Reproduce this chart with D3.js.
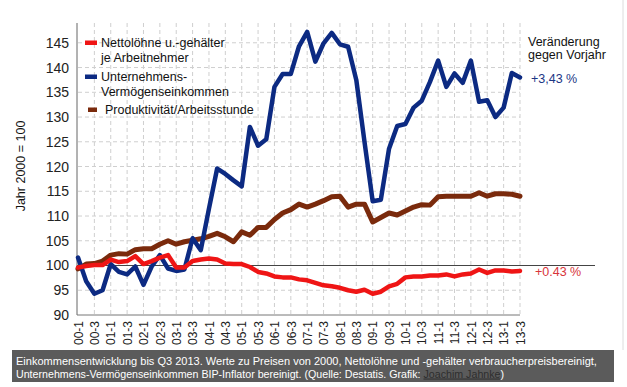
<!DOCTYPE html>
<html>
<head>
<meta charset="utf-8">
<script src="https://cdn.jsdelivr.net/npm/d3@7"></script>
<style>
  body { margin: 0; background: #fff; }
  svg { display: block; font-family: "Liberation Sans", Arial, sans-serif; }
  .grid line { stroke: #cfcfcf; stroke-dasharray: 4,3; stroke-width: 1; }
  .series { fill: none; stroke-linejoin: round; stroke-linecap: round; }
  .caption { white-space: pre; }
</style>
</head>
<body>
<div id="chart"></div>
<script>
  // quarters 2000-Q1 .. 2013-Q3
  var quarters = [];
  for (var yr = 0; yr <= 13; yr++) {
    for (var q = 1; q <= 4; q++) {
      if (yr == 13 && q > 3) break;
      quarters.push((yr < 10 ? "0" + yr : "" + yr) + "-" + q);
    }
  }
  // every second quarter gets a label
  var tickLabels = quarters.filter(function (d) { return d.slice(-1) == "1" || d.slice(-1) == "3"; });

  var yTicks = [90, 95, 100, 105, 110, 115, 120, 125, 130, 135, 140, 145];

  var nettoLoehne = [99.6, 99.9, 100.1, 100.1, 101.2, 100.7, 100.9, 101.9, 100.3, 100.9,
    101.6, 102.1, 99.6, 99.6, 100.9, 101.2, 101.4, 101.2, 100.4, 100.3,
    100.3, 99.7, 98.7, 98.4, 97.8, 97.6, 97.6, 97.2, 97.0, 96.5,
    96.0, 95.8, 95.5, 95.0, 94.7, 95.1, 94.3, 94.7, 95.8, 96.3,
    97.6, 97.8, 97.8, 98.0, 98.0, 98.2, 97.8, 98.2, 98.4, 99.2,
    98.5, 99.0, 99.0, 98.8, 98.9];

  var unternehmen = [101.6, 96.8, 94.3, 95.0, 100.3, 98.7, 98.2, 99.8, 96.1, 99.8,
    102.1, 99.4, 98.9, 99.2, 105.5, 103.1, 111.5, 119.6, 118.5, 117.2,
    116.0, 128.0, 124.2, 125.5, 136.1, 138.7, 138.7, 144.3, 147.2, 141.2,
    144.9, 147.0, 144.7, 144.2, 137.5, 125.0, 113.0, 113.3, 123.6, 128.2,
    128.6, 131.9, 133.3, 137.1, 141.4, 136.1, 138.8, 136.9, 141.4, 133.1,
    133.4, 130.0, 131.9, 138.9, 138.0];

  var produktivitaet = [99.3, 100.3, 100.4, 100.9, 102.1, 102.4, 102.3, 103.2, 103.4, 103.4,
    104.3, 105.0, 104.3, 104.8, 105.1, 105.4, 105.9, 106.5, 105.8, 104.8,
    106.8, 106.1, 107.7, 107.7, 109.3, 110.6, 111.3, 112.4, 111.8, 112.4,
    113.1, 113.9, 114.0, 111.8, 112.4, 112.4, 108.8, 109.7, 110.6, 110.2,
    111.0, 111.8, 112.3, 112.2, 113.9, 114.0, 114.0, 114.0, 114.0, 114.7,
    114.0, 114.5, 114.5, 114.4, 114.0];

  var seriesNames = [["Nettolöhne u.-gehälter", "je Arbeitnehmer"], ["Unternehmens-", "Vermögenseinkommen"], ["Produktivität/Arbeitsstunde"]];
  var seriesColors = ["#ef1515", "#0c2a82", "#7a2a0c"];
  var changeLabels = ["+0.43 %", "+3,43 %"];

  var width = 627, height = 387;

  var svg = d3.select("#chart").append("svg").attr("width", width).attr("height", height);

  var x = d3.scalePoint().domain(quarters).range([78, 520]);
  var y = d3.scaleLinear().domain([90, 149]).range([315, 23]);

  // page frame on the right
  svg.append("line").attr("x1", 623).attr("x2", 623).attr("y1", 0).attr("y2", 350)
    .attr("stroke", "#dcdcdc");

  // grid
  var grid = svg.append("g").attr("class", "grid");
  grid.selectAll(".v").data(tickLabels.slice(1)).enter().append("line")
    .attr("x1", function (d) { return x(d); }).attr("x2", function (d) { return x(d); })
    .attr("y1", y(149)).attr("y2", y(90));
  grid.selectAll(".h").data(yTicks.filter(function (d) { return d != 90 && d != 100; })).enter().append("line")
    .attr("x1", x.range()[0]).attr("x2", x.range()[1])
    .attr("y1", function (d) { return y(d); }).attr("y2", function (d) { return y(d); });

  // axes
  var yAxis = svg.append("g").attr("transform", "translate(77,0)")
    .call(d3.axisLeft(y).tickValues(yTicks).tickSize(0).tickPadding(8));
  yAxis.select(".domain").attr("d", "M0," + y(149) + "V" + y(90)).attr("stroke", "#666");
  yAxis.selectAll("text").attr("font-size", "14px").attr("fill", "#222").attr("font-family", null);

  var xAxis = svg.append("g").attr("transform", "translate(0," + y(90) + ")")
    .call(d3.axisBottom(x).tickValues(tickLabels).tickSize(0).tickPadding(0));
  xAxis.select(".domain").attr("d", "M77,0H" + x.range()[1]).attr("stroke", "#777");
  xAxis.selectAll("text")
    .attr("font-size", "12px").attr("fill", "#222").attr("font-family", null)
    .attr("text-anchor", "end").attr("dy", "0.35em")
    .attr("transform", "translate(0,6) rotate(-90)").attr("x", 0).attr("y", 0);

  // reference line at 100
  svg.append("line").attr("x1", 77).attr("x2", 595).attr("y1", y(100)).attr("y2", y(100))
    .attr("stroke", "#444").attr("stroke-width", 1);

  // series
  var line = d3.line().x(function (d, i) { return x(quarters[i]); }).y(function (d) { return y(d); });
  svg.append("path").attr("class", "series").attr("d", line(produktivitaet))
    .attr("stroke", seriesColors[2]).attr("stroke-width", 5);
  svg.append("path").attr("class", "series").attr("d", line(unternehmen))
    .attr("stroke", seriesColors[1]).attr("stroke-width", 4.5);
  svg.append("path").attr("class", "series").attr("d", line(nettoLoehne))
    .attr("stroke", seriesColors[0]).attr("stroke-width", 4.5);

  // legend
  var legend = svg.append("g").attr("font-size", "12.5px").attr("fill", "#111");
  var legendY = [47, 81, 114];
  var legendX = [101, 101, 105];
  seriesNames.forEach(function (names, i) {
    legend.append("rect").attr("x", i == 2 ? 88 : 85).attr("y", legendY[i] - 6.5)
      .attr("width", i == 2 ? 9 : 12).attr("height", 4.5).attr("fill", seriesColors[i]);
    names.forEach(function (t, j) {
      legend.append("text").attr("x", legendX[i]).attr("y", legendY[i] + j * 15).text(t);
    });
  });

  // right side annotations
  svg.append("text").attr("x", 528).attr("y", 46).attr("font-size", "12.5px").attr("fill", "#111").text("Veränderung");
  svg.append("text").attr("x", 528).attr("y", 59).attr("font-size", "12.5px").attr("fill", "#111").text("gegen Vorjahr");
  svg.append("text").attr("x", 531).attr("y", 83).attr("font-size", "12.5px").attr("fill", "#1c3684").text(changeLabels[1]);
  svg.append("text").attr("x", 535).attr("y", 276).attr("font-size", "12.5px").attr("fill", "#d8353a").text(changeLabels[0]);

  // y axis title
  svg.append("text").attr("transform", "translate(25,166) rotate(-90)")
    .attr("text-anchor", "middle").attr("font-size", "12.5px").attr("fill", "#111")
    .text("Jahr 2000 = 100");

  // caption box: each line is sized so it fills the width it has in the original
  svg.append("rect").attr("x", 12).attr("y", 350).attr("width", 602).attr("height", 32).attr("fill", "#5b5b5b");
  var captionLines = [
    [["Einkommensentwicklung bis Q3 2013. Werte zu Preisen von 2000, Nettolöhne und -gehälter verbraucherpreisbereinigt,", "#fff", false]],
    [["Unternehmens-Vermögenseinkommen BIP-Inflator bereinigt. (Quelle: Destatis. Grafik: ", "#fff", false],
     ["Joachim Jahnke", "#2e2e2e", true],
     [")", "#fff", false]]
  ];
  var captionWidths = [582, 489];
  var captionBase = [364.5, 377.5];
  captionLines.forEach(function (parts, li) {
    // measure at 10px, then scale
    var probe = svg.append("text").attr("class", "caption").attr("font-size", "10px")
      .text(parts.map(function (p) { return p[0]; }).join(""));
    var fs = 10 * captionWidths[li] / probe.node().getComputedTextLength();
    probe.remove();
    var cx = 16;
    parts.forEach(function (p) {
      var t = svg.append("text").attr("class", "caption").attr("x", cx).attr("y", captionBase[li])
        .attr("font-size", fs + "px").attr("fill", p[1]).text(p[0]);
      if (p[2]) t.attr("text-decoration", "underline");
      cx += t.node().getComputedTextLength();
    });
  });
</script>
</body>
</html>
